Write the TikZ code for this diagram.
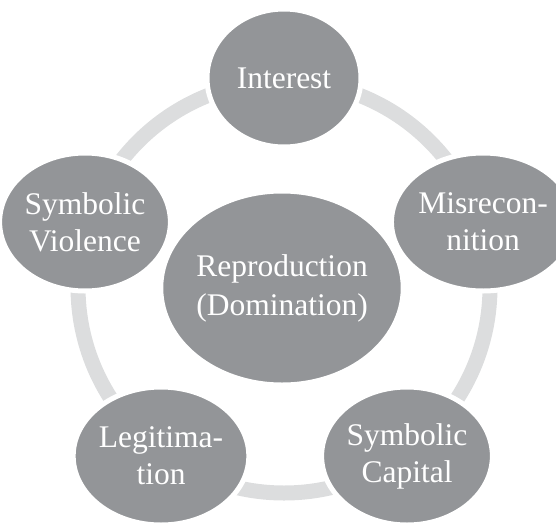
\documentclass[tikz,border=0pt]{standalone}
\usepackage{fontspec}
\setmainfont{Liberation Serif}
\usetikzlibrary{shapes.geometric}
\definecolor{discgray}{RGB}{147,149,152}
\definecolor{ringgray}{RGB}{220,221,222}
\tikzset{
  disc/.style={ellipse, fill=discgray, draw=white, line width=5pt,
    minimum width=154pt, minimum height=138pt, inner sep=0pt,
    text=white, align=center, font=\fontsize{31.5}{37}\selectfont},
  hub/.style={disc, minimum width=241pt, minimum height=194pt,
    font=\fontsize{31.5}{39}\selectfont},
  ring/.style={draw=ringgray, line width=15pt}
}
\begin{document}
\begin{tikzpicture}[x=1pt,y=-1pt]
\useasboundingbox (0,0) rectangle (556,522);
% cycle ring behind the stations
\coordinate (c) at (284,287);
\draw[ring] (c) circle [radius=206];
% stations on the ring
\node[disc] (interest) at (284,78) {Interest};
\node[disc] (misrec) at (483,222) {Misrecon-\\nition};
\node[disc] (capital) at (407,456) {Symbolic\\Capital};
\node[disc] (legit) at (161,456) {Legitima-\\tion};
\node[disc] (violence) at (85,222) {Symbolic\\Violence};
% centre
\node[hub] (repro) at (282,288) {Reproduction\\(Domination)};
\end{tikzpicture}
\end{document}
